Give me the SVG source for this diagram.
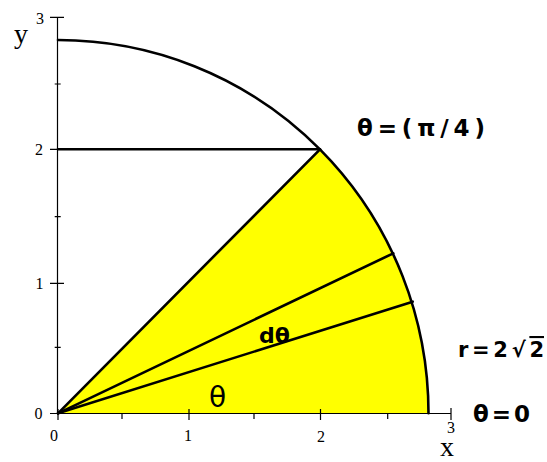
<svg xmlns="http://www.w3.org/2000/svg" width="547" height="462" viewBox="0 0 547 462">
<style>
.axis{stroke:#000;stroke-width:1.2;fill:none}
.thick{stroke:#000;stroke-width:2.6;fill:none;stroke-linecap:round}
.tick{font-family:"Liberation Serif",serif;font-size:16px;fill:#000;text-anchor:middle}
.axlab{font-family:"Liberation Serif",serif;font-size:28px;fill:#000}
.lab{font-family:"DejaVu Sans","Liberation Sans",sans-serif;font-weight:bold;fill:#000}
</style>
<rect width="547" height="462" fill="#fff"/>
<g id="sector">
<path d="M58,413.3 L428.5,413.3 A370.5,373.4 0 0 0 320,149.3 Z" fill="#ffff00"/>
</g>
<g id="axes">
<line class="axis" x1="57.5" y1="17" x2="57.5" y2="413.5"/>
<line class="axis" x1="57.5" y1="413.5" x2="451" y2="413.5"/>
<path class="axis" d="M50,17.3H64 M54.7,84H60.7 M50,149.3H64 M54.7,216.7H60.7 M50,283.3H64 M54.7,347.3H60.7 M50,413.5H58"/>
<path class="axis" d="M58,409V420 M122,413.5V419 M189,409V420 M254,413.5V419 M320.5,409V420 M387.7,413.5V419 M451,408V420"/>
<text class="tick" x="40" y="24">3</text>
<text class="tick" x="39" y="155">2</text>
<text class="tick" x="39.5" y="289">1</text>
<text class="tick" x="38.5" y="419">0</text>
<text class="tick" x="54" y="441">0</text>
<text class="tick" x="188" y="441">1</text>
<text class="tick" x="321" y="442">2</text>
<text class="tick" x="451" y="433" font-size="15">3</text>
<text class="axlab" x="14" y="43">y</text>
<text class="axlab" x="440" y="456" font-size="22">x</text>
</g>
<g id="connectors">
<path class="thick" d="M58,40 A370.5,373.4 0 0 1 428.5,413.3"/>
<line class="thick" x1="58" y1="149.3" x2="320" y2="149.3"/>
<line class="thick" x1="58" y1="413.3" x2="320" y2="149.3"/>
<line class="thick" x1="58" y1="413.3" x2="393.3" y2="253.3"/>
<line class="thick" x1="58" y1="413.3" x2="412.7" y2="301.7"/>
</g>
<g id="labels">
<text class="lab" x="357" y="136" font-size="23" textLength="128" lengthAdjust="spacing">θ=(π/4)</text>
<text class="lab" x="458" y="357" font-size="21" textLength="86" lengthAdjust="spacing">r=2√<tspan text-decoration="overline">2</tspan></text>
<text class="lab" x="473" y="422" font-size="23" textLength="57" lengthAdjust="spacing">θ=0</text>
<text class="lab" x="259" y="343" font-size="22">dθ</text>
<text x="209" y="407" font-family="DejaVu Sans,sans-serif" font-size="28" fill="#000">θ</text>
</g>
</svg>
